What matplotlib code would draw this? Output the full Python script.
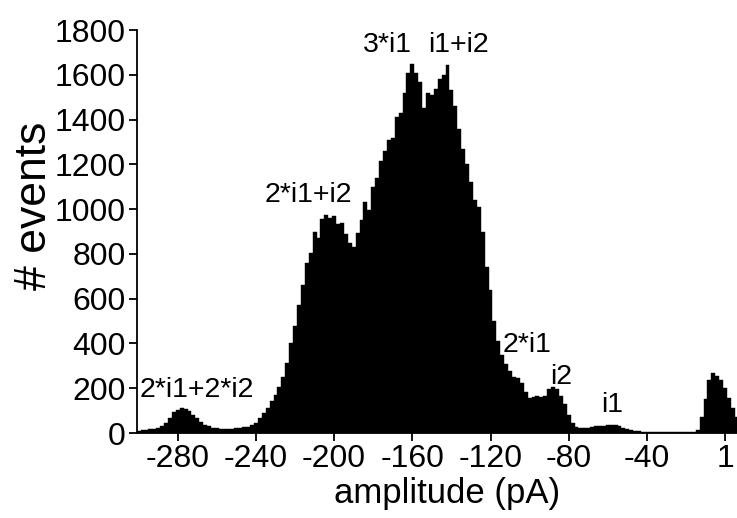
import numpy as np
import matplotlib
matplotlib.use('Agg')
import matplotlib.pyplot as plt

plt.rcParams['font.family'] = ['Liberation Sans', 'DejaVu Sans']

# bin centres (pA), 2 pA wide
centers = np.arange(-300, 8, 2)
counts = [10, 12, 14, 16, 19, 22, 30, 45, 68, 92,
          105, 112, 108, 98, 82, 68, 50, 38, 30, 24,
          21, 19, 18, 18, 20, 21, 23, 26, 29, 34,
          43, 65, 90, 112, 145, 168, 205, 250, 315, 400,
          480, 570, 660, 760, 805, 900, 870, 955, 972, 960,
          968, 935, 940, 890, 850, 830, 895, 950, 1030, 995,
          1100, 1140, 1215, 1260, 1310, 1320, 1410, 1430, 1520, 1610,
          1650, 1610, 1570, 1450, 1520, 1510, 1535, 1580, 1600, 1645,
          1530, 1460, 1360, 1270, 1200, 1120, 1040, 1010, 900, 740,
          640, 500, 410, 350, 310, 275, 250, 245, 225, 185,
          158, 162, 166, 162, 165, 195, 204, 195, 165, 128,
          80, 45, 26, 22, 21, 23, 27, 30, 32, 33,
          35, 36, 34, 30, 24, 19, 14, 10, 7, 6,
          5, 5, 4, 5, 4, 5, 4, 5, 4, 5,
          4, 5, 6, 15, 70, 150, 235, 270, 255, 235,
          200, 155, 110, 70]

xticks = [-280, -240, -200, -160, -120, -80, -40, 0]
xticklabels = ['-280', '-240', '-200', '-160', '-120', '-80', '-40', '1']
yticks = [0, 200, 400, 600, 800, 1000, 1200, 1400, 1600, 1800]

peak_labels = ['2*i1+2*i2', '2*i1+i2', '3*i1', 'i1+i2', '2*i1', 'i2', 'i1']
peak_x = [-270, -213, -172.5, -136.5, -101.5, -84, -58]
peak_y = [192, 1063, 1733, 1733, 393, 250, 125]

fig = plt.figure(figsize=(7.37, 5.18), dpi=100)
ax = fig.add_axes([0.186, 0.164, 0.814, 0.778])

ax.bar(centers, counts, width=2, color='black', edgecolor='black', linewidth=0.3)

ax.set_xlim(-300.8, 6.1)
ax.set_ylim(0, 1800)
ax.set_xticks(xticks)
ax.set_xticklabels(xticklabels)
ax.set_yticks(yticks)

for s in ['top', 'right']:
    ax.spines[s].set_visible(False)
for s in ['left', 'bottom']:
    ax.spines[s].set_linewidth(1.3)
ax.tick_params(axis='both', direction='out', length=6, width=1.3, labelsize=23, pad=2)

ax.set_xlabel('amplitude (pA)', fontsize=25)
ax.set_ylabel('# events', fontsize=32)
ax.xaxis.set_label_coords(0.517, -0.11)
ax.yaxis.set_label_coords(-0.137, 0.565)

for t, x, y in zip(peak_labels, peak_x, peak_y):
    ax.text(x, y, t, fontsize=20.5, ha='center', va='center')

fig.savefig('out.png', dpi=100)
